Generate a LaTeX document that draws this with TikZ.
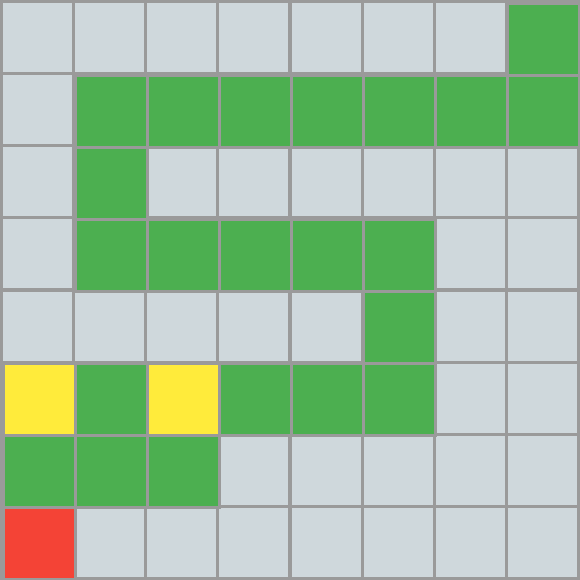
\documentclass[tikz,border=0pt]{standalone}
\definecolor{cgray}{HTML}{CFD8DC}
\definecolor{cgreen}{HTML}{4CAF50}
\definecolor{cyellow}{HTML}{FFEB3B}
\definecolor{cred}{HTML}{F44336}
\definecolor{cline}{HTML}{9A9A9A}
\tikzset{cell/.style={draw=cline, line width=1.2pt}}
\begin{document}
\begin{tikzpicture}[y=-1cm]
\useasboundingbox (-0.025,-0.025) rectangle (8.025,8.025);
% row, col lists
\foreach \r in {0,...,7}{
  \foreach \c in {0,...,7}{
    \node[cell, fill=cgray, minimum size=1cm, inner sep=0pt, outer sep=0pt, anchor=north west] (g\r\c) at (\c,\r) {};
  }
}
\foreach \r/\c in {0/7, 1/1,1/2,1/3,1/4,1/5,1/6,1/7, 2/1, 3/1,3/2,3/3,3/4,3/5, 4/5, 5/1,5/3,5/4,5/5, 6/0,6/1,6/2}{
  \node[cell, fill=cgreen, minimum size=1cm, inner sep=0pt, anchor=north west] at (\c,\r) {};
}
\foreach \r/\c in {5/0,5/2}{
  \node[cell, fill=cyellow, minimum size=1cm, inner sep=0pt, anchor=north west] at (\c,\r) {};
}
\node[cell, fill=cred, minimum size=1cm, inner sep=0pt, anchor=north west] at (0,7) {};
\end{tikzpicture}
\end{document}
